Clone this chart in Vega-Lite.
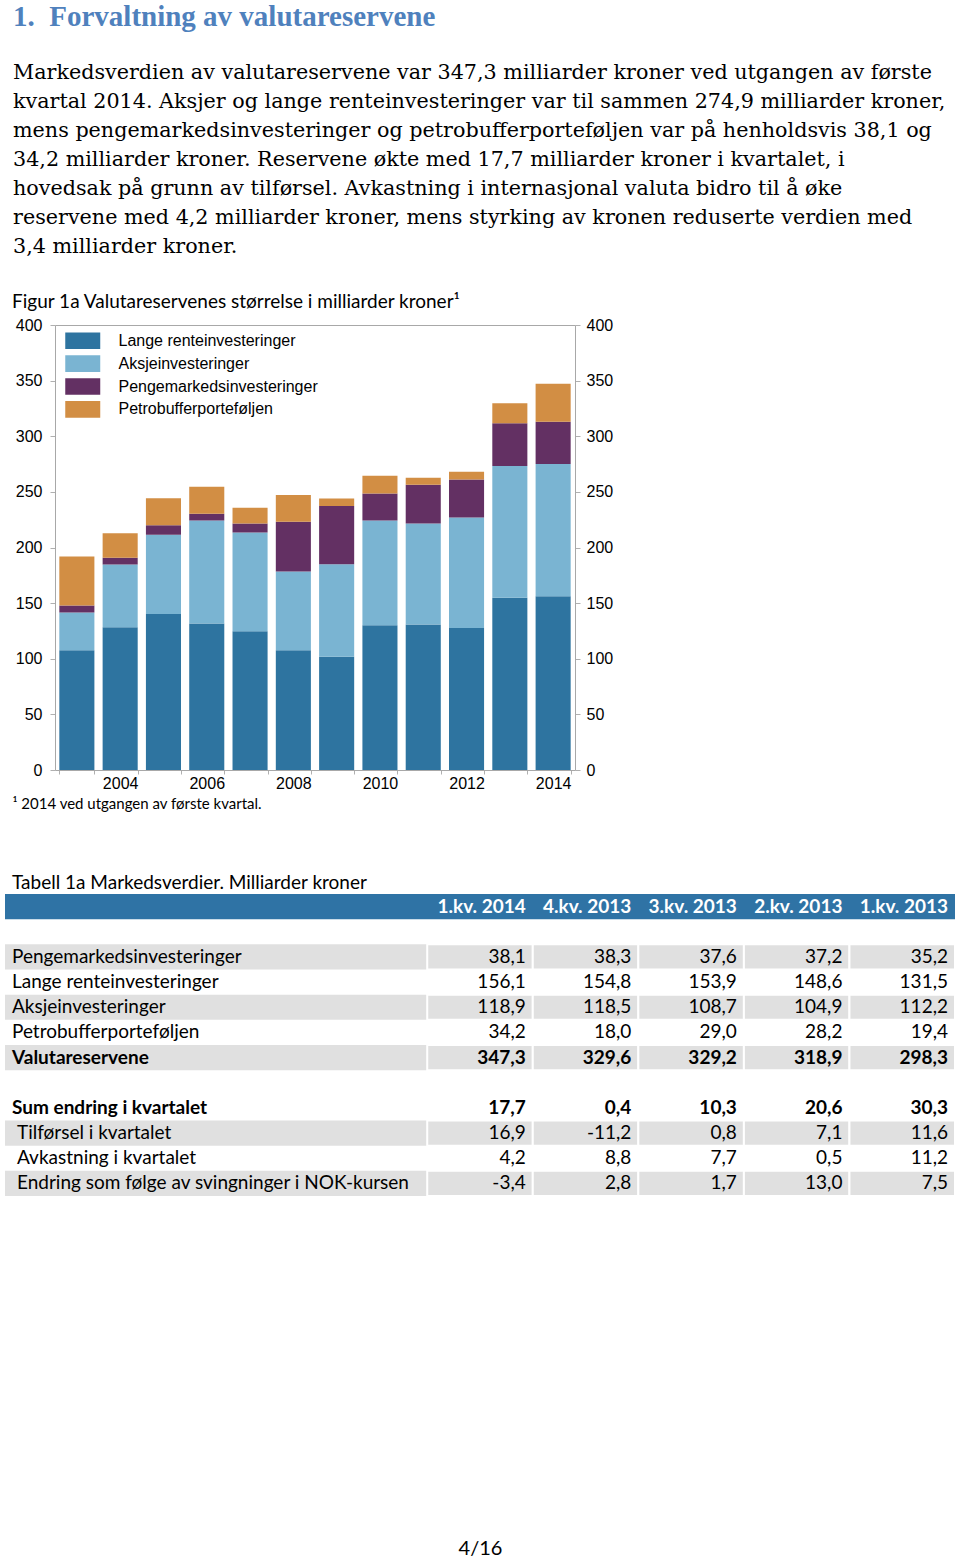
{
  "$schema": "https://vega.github.io/schema/vega-lite/v6.json",
  "padding": {"left": 5, "top": 3, "right": 5, "bottom": 0},
  "background": "white",
  "title": {
    "text": "1.\u00a0 Forvaltning av valutareservene",
    "subtitle": [
      "Markedsverdien av valutareservene var 347,3 milliarder kroner ved utgangen av første",
      "kvartal 2014. Aksjer og lange renteinvesteringer var til sammen 274,9 milliarder kroner,",
      "mens pengemarkedsinvesteringer og petrobufferporteføljen var på henholdsvis 38,1 og",
      "34,2 milliarder kroner. Reservene økte med 17,7 milliarder kroner i kvartalet, i",
      "hovedsak på grunn av tilførsel. Avkastning i internasjonal valuta bidro til å øke",
      "reservene med 4,2 milliarder kroner, mens styrking av kronen reduserte verdien med",
      "3,4 milliarder kroner."
    ],
    "anchor": "start",
    "dx": 8,
    "font": "Liberation Serif",
    "fontSize": 29,
    "fontWeight": "bold",
    "color": "#4F81BD",
    "subtitleFont": "DejaVu Serif",
    "subtitleFontSize": 20.7,
    "subtitleColor": "#000000",
    "subtitleLineHeight": 29,
    "subtitlePadding": 31,
    "offset": 36
  },
  "config": {"view": {"stroke": null}},
  "spacing": 63,
  "vconcat": [
    {
      "width": 570,
      "height": 445,
      "title": {
        "text": "Figur 1a Valutareservenes størrelse i milliarder kroner¹",
        "anchor": "start",
        "dx": 7,
        "font": "Lato",
        "fontSize": 19,
        "fontWeight": "normal",
        "color": "#000000",
        "offset": 5
      },
      "data": {
        "values": [
          {"year": "2003", "series": "Lange renteinvesteringer", "o": 1, "value": 107.6},
          {"year": "2003", "series": "Aksjeinvesteringer", "o": 2, "value": 33.9},
          {"year": "2003", "series": "Pengemarkedsinvesteringer", "o": 3, "value": 6.3},
          {"year": "2003", "series": "Petrobufferporteføljen", "o": 4, "value": 44.1},
          {"year": "2004", "series": "Lange renteinvesteringer", "o": 1, "value": 128.3},
          {"year": "2004", "series": "Aksjeinvesteringer", "o": 2, "value": 56.4},
          {"year": "2004", "series": "Pengemarkedsinvesteringer", "o": 3, "value": 6.0},
          {"year": "2004", "series": "Petrobufferporteføljen", "o": 4, "value": 22.2},
          {"year": "2005", "series": "Lange renteinvesteringer", "o": 1, "value": 140.3},
          {"year": "2005", "series": "Aksjeinvesteringer", "o": 2, "value": 71.1},
          {"year": "2005", "series": "Pengemarkedsinvesteringer", "o": 3, "value": 8.7},
          {"year": "2005", "series": "Petrobufferporteføljen", "o": 4, "value": 24.2},
          {"year": "2006", "series": "Lange renteinvesteringer", "o": 1, "value": 131.6},
          {"year": "2006", "series": "Aksjeinvesteringer", "o": 2, "value": 92.7},
          {"year": "2006", "series": "Pengemarkedsinvesteringer", "o": 3, "value": 6.0},
          {"year": "2006", "series": "Petrobufferporteføljen", "o": 4, "value": 24.2},
          {"year": "2007", "series": "Lange renteinvesteringer", "o": 1, "value": 124.7},
          {"year": "2007", "series": "Aksjeinvesteringer", "o": 2, "value": 88.8},
          {"year": "2007", "series": "Pengemarkedsinvesteringer", "o": 3, "value": 8.1},
          {"year": "2007", "series": "Petrobufferporteføljen", "o": 4, "value": 14.1},
          {"year": "2008", "series": "Lange renteinvesteringer", "o": 1, "value": 107.6},
          {"year": "2008", "series": "Aksjeinvesteringer", "o": 2, "value": 70.8},
          {"year": "2008", "series": "Pengemarkedsinvesteringer", "o": 3, "value": 44.7},
          {"year": "2008", "series": "Petrobufferporteføljen", "o": 4, "value": 24.2},
          {"year": "2009", "series": "Lange renteinvesteringer", "o": 1, "value": 101.9},
          {"year": "2009", "series": "Aksjeinvesteringer", "o": 2, "value": 83.1},
          {"year": "2009", "series": "Pengemarkedsinvesteringer", "o": 3, "value": 52.2},
          {"year": "2009", "series": "Petrobufferporteføljen", "o": 4, "value": 6.9},
          {"year": "2010", "series": "Lange renteinvesteringer", "o": 1, "value": 130.1},
          {"year": "2010", "series": "Aksjeinvesteringer", "o": 2, "value": 94.2},
          {"year": "2010", "series": "Pengemarkedsinvesteringer", "o": 3, "value": 24.2},
          {"year": "2010", "series": "Petrobufferporteføljen", "o": 4, "value": 15.9},
          {"year": "2011", "series": "Lange renteinvesteringer", "o": 1, "value": 130.7},
          {"year": "2011", "series": "Aksjeinvesteringer", "o": 2, "value": 90.9},
          {"year": "2011", "series": "Pengemarkedsinvesteringer", "o": 3, "value": 34.7},
          {"year": "2011", "series": "Petrobufferporteføljen", "o": 4, "value": 6.3},
          {"year": "2012", "series": "Lange renteinvesteringer", "o": 1, "value": 127.7},
          {"year": "2012", "series": "Aksjeinvesteringer", "o": 2, "value": 99.3},
          {"year": "2012", "series": "Pengemarkedsinvesteringer", "o": 3, "value": 34.2},
          {"year": "2012", "series": "Petrobufferporteføljen", "o": 4, "value": 6.8},
          {"year": "2013", "series": "Lange renteinvesteringer", "o": 1, "value": 154.8},
          {"year": "2013", "series": "Aksjeinvesteringer", "o": 2, "value": 118.5},
          {"year": "2013", "series": "Pengemarkedsinvesteringer", "o": 3, "value": 38.3},
          {"year": "2013", "series": "Petrobufferporteføljen", "o": 4, "value": 18.0},
          {"year": "2014", "series": "Lange renteinvesteringer", "o": 1, "value": 156.1},
          {"year": "2014", "series": "Aksjeinvesteringer", "o": 2, "value": 118.9},
          {"year": "2014", "series": "Pengemarkedsinvesteringer", "o": 3, "value": 38.1},
          {"year": "2014", "series": "Petrobufferporteføljen", "o": 4, "value": 34.2}
        ]
      },
      "layer": [
        {
          "mark": {"type": "bar"},
          "encoding": {
            "x": {
              "field": "year",
              "type": "ordinal",
              "scale": {"range": [50, 570], "paddingInner": 0.19, "paddingOuter": 0.1},
              "axis": {
                "orient": "bottom",
                "labelExpr": "toNumber(datum.value) % 2 == 0 ? datum.label : ''",
                "labelAngle": 0,
                "labelFont": "Liberation Sans",
                "labelFontSize": 16,
                "labelColor": "#000000",
                "labelPadding": 1,
                "tickBand": "extent",
                "tickSize": 4,
                "tickColor": "#b0b0b0",
                "domainColor": "#a8a8a8",
                "title": "¹ 2014 ved utgangen av første kvartal.",
                "titleFont": "Lato",
                "titleFontSize": 15,
                "titleFontWeight": "normal",
                "titleColor": "#000000",
                "titleAnchor": "start",
                "titleAlign": "left",
                "titleBaseline": "middle",
                "titleX": 7,
                "titleY": 33
              }
            },
            "y": {
              "field": "value",
              "type": "quantitative",
              "stack": "zero",
              "scale": {"domain": [0, 400], "nice": false},
              "axis": {
                "orient": "left",
                "offset": -50,
                "values": [0, 50, 100, 150, 200, 250, 300, 350, 400],
                "grid": false,
                "tickSize": 5,
                "tickColor": "#b0b0b0",
                "domainColor": "#a8a8a8",
                "labelFont": "Liberation Sans",
                "labelFontSize": 16,
                "labelColor": "#000000",
                "labelPadding": 8,
                "title": null
              }
            },
            "color": {
              "field": "series",
              "type": "nominal",
              "scale": {
                "domain": ["Lange renteinvesteringer", "Aksjeinvesteringer", "Pengemarkedsinvesteringer", "Petrobufferporteføljen"],
                "range": ["#2E74A0", "#7AB4D2", "#633063", "#D28E44"]
              },
              "legend": {
                "orient": "none",
                "legendX": 68.75,
                "legendY": 6.7,
                "padding": 0,
                "title": null,
                "symbolType": "M-2,-0.95H2V0.95H-2Z",
                "symbolSize": 306,
                "symbolStrokeWidth": 0,
                "symbolOpacity": 1,
                "labelOffset": 26.75,
                "rowPadding": 4.9,
                "labelFont": "Liberation Sans",
                "labelFontSize": 16,
                "labelColor": "#000000",
                "labelLimit": 400
              }
            },
            "order": {"field": "o", "type": "quantitative"}
          }
        },
        {
          "mark": {"type": "point", "opacity": 0},
          "encoding": {
            "x": {
              "field": "year",
              "type": "ordinal",
              "scale": {"range": [50, 570], "paddingInner": 0.19, "paddingOuter": 0.1},
              "axis": {"orient": "top", "labels": false, "ticks": false, "domain": true, "domainColor": "#a8a8a8", "title": null}
            },
            "y": {
              "field": "value",
              "type": "quantitative",
              "scale": {"domain": [0, 400], "nice": false},
              "axis": {
                "orient": "right",
                "values": [0, 50, 100, 150, 200, 250, 300, 350, 400],
                "grid": false,
                "tickSize": 5,
                "tickColor": "#b0b0b0",
                "domainColor": "#a8a8a8",
                "labelFont": "Liberation Sans",
                "labelFontSize": 16,
                "labelColor": "#000000",
                "labelPadding": 6,
                "title": null
              }
            }
          }
        }
      ],
      "resolve": {"axis": {"x": "independent", "y": "independent"}}
    },
    {
      "width": 950,
      "height": 302,
      "title": {
        "text": "Tabell 1a Markedsverdier. Milliarder kroner",
        "anchor": "start",
        "dx": 7,
        "font": "Lato",
        "fontSize": 19,
        "fontWeight": "normal",
        "color": "#000000",
        "offset": 1
      },
      "data": {
        "values": [
          {"row": "hdr", "shade": "blue", "b": 1, "ind": 0, "label": "", "c1": "1.kv. 2014", "c2": "4.kv. 2013", "c3": "3.kv. 2013", "c4": "2.kv. 2013", "c5": "1.kv. 2013"},
          {"row": "r1", "shade": "gray", "b": 0, "ind": 0, "label": "Pengemarkedsinvesteringer", "c1": "38,1", "c2": "38,3", "c3": "37,6", "c4": "37,2", "c5": "35,2"},
          {"row": "r2", "shade": "none", "b": 0, "ind": 0, "label": "Lange renteinvesteringer", "c1": "156,1", "c2": "154,8", "c3": "153,9", "c4": "148,6", "c5": "131,5"},
          {"row": "r3", "shade": "gray", "b": 0, "ind": 0, "label": "Aksjeinvesteringer", "c1": "118,9", "c2": "118,5", "c3": "108,7", "c4": "104,9", "c5": "112,2"},
          {"row": "r4", "shade": "none", "b": 0, "ind": 0, "label": "Petrobufferporteføljen", "c1": "34,2", "c2": "18,0", "c3": "29,0", "c4": "28,2", "c5": "19,4"},
          {"row": "r5", "shade": "gray", "b": 1, "ind": 0, "label": "Valutareservene", "c1": "347,3", "c2": "329,6", "c3": "329,2", "c4": "318,9", "c5": "298,3"},
          {"row": "s1", "shade": "none", "b": 1, "ind": 0, "label": "Sum endring i kvartalet", "c1": "17,7", "c2": "0,4", "c3": "10,3", "c4": "20,6", "c5": "30,3"},
          {"row": "s2", "shade": "gray", "b": 0, "ind": 1, "label": "Tilførsel i kvartalet", "c1": "16,9", "c2": "-11,2", "c3": "0,8", "c4": "7,1", "c5": "11,6"},
          {"row": "s3", "shade": "none", "b": 0, "ind": 1, "label": "Avkastning i kvartalet", "c1": "4,2", "c2": "8,8", "c3": "7,7", "c4": "0,5", "c5": "11,2"},
          {"row": "s4", "shade": "gray", "b": 0, "ind": 1, "label": "Endring som følge av svingninger i NOK-kursen", "c1": "-3,4", "c2": "2,8", "c3": "1,7", "c4": "13,0", "c5": "7,5"}
        ]
      },
      "transform": [
        {"fold": ["label", "c1", "c2", "c3", "c4", "c5"], "as": ["col", "text"]}
      ],
      "encoding": {
        "y": {
          "field": "row",
          "type": "ordinal",
          "scale": {"domain": ["hdr", "b1", "r1", "r2", "r3", "r4", "r5", "b2", "s1", "s2", "s3", "s4"], "paddingInner": 0, "paddingOuter": 0},
          "axis": null
        }
      },
      "layer": [
        {
          "transform": [{"filter": "datum.col == 'label' && datum.shade != 'none'"}],
          "mark": {"type": "rect"},
          "encoding": {
            "fill": {
              "field": "shade",
              "type": "nominal",
              "scale": {"domain": ["blue", "gray"], "range": ["#2F73A5", "#E0E0E0"]},
              "legend": null
            }
          }
        },
        {
          "transform": [{"filter": "datum.col != 'label' && datum.shade == 'gray'"}],
          "mark": {"type": "rect", "stroke": "#ffffff", "strokeWidth": 2},
          "encoding": {
            "x": {
              "field": "col",
              "type": "nominal",
              "scale": {"domain": ["label", "L2", "L3", "L4", "c1", "c2", "c3", "c4", "c5"], "paddingInner": 0, "paddingOuter": 0},
              "axis": {
                "orient": "bottom",
                "labels": false,
                "ticks": false,
                "domain": false,
                "title": "4/16",
                "titleFont": "Lato",
                "titleFontSize": 20,
                "titleFontWeight": "normal",
                "titleColor": "#000000",
                "titlePadding": 342
              }
            },
            "fill": {"field": "shade", "type": "nominal", "legend": null}
          }
        },
        {
          "transform": [{"filter": "datum.col == 'label' && datum.b == 0 && datum.ind == 0"}],
          "mark": {"type": "text", "align": "left", "baseline": "middle", "dx": 7, "font": "Lato", "fontSize": 19, "color": "#000000"},
          "encoding": {
            "x": {"field": "col", "type": "nominal", "bandPosition": 0},
            "text": {"field": "text"}
          }
        },
        {
          "transform": [{"filter": "datum.col == 'label' && datum.b == 0 && datum.ind == 1"}],
          "mark": {"type": "text", "align": "left", "baseline": "middle", "dx": 12, "font": "Lato", "fontSize": 19, "color": "#000000"},
          "encoding": {
            "x": {"field": "col", "type": "nominal", "bandPosition": 0},
            "text": {"field": "text"}
          }
        },
        {
          "transform": [{"filter": "datum.col == 'label' && datum.b == 1"}],
          "mark": {"type": "text", "align": "left", "baseline": "middle", "dx": 7, "font": "Lato", "fontSize": 19, "fontWeight": "bold", "color": "#000000"},
          "encoding": {
            "x": {"field": "col", "type": "nominal", "bandPosition": 0},
            "text": {"field": "text"}
          }
        },
        {
          "transform": [{"filter": "datum.col != 'label' && datum.b == 0"}],
          "mark": {"type": "text", "align": "right", "baseline": "middle", "dx": -7, "font": "Lato", "fontSize": 19, "color": "#000000"},
          "encoding": {
            "x": {"field": "col", "type": "nominal", "bandPosition": 1},
            "text": {"field": "text"}
          }
        },
        {
          "transform": [{"filter": "datum.col != 'label' && datum.b == 1 && datum.row != 'hdr'"}],
          "mark": {"type": "text", "align": "right", "baseline": "middle", "dx": -7, "font": "Lato", "fontSize": 19, "fontWeight": "bold", "color": "#000000"},
          "encoding": {
            "x": {"field": "col", "type": "nominal", "bandPosition": 1},
            "text": {"field": "text"}
          }
        },
        {
          "transform": [{"filter": "datum.col != 'label' && datum.row == 'hdr'"}],
          "mark": {"type": "text", "align": "right", "baseline": "middle", "dx": -7, "font": "Lato", "fontSize": 19, "fontWeight": "bold", "color": "#ffffff"},
          "encoding": {
            "x": {"field": "col", "type": "nominal", "bandPosition": 1},
            "text": {"field": "text"}
          }
        }
      ]
    }
  ]
}
